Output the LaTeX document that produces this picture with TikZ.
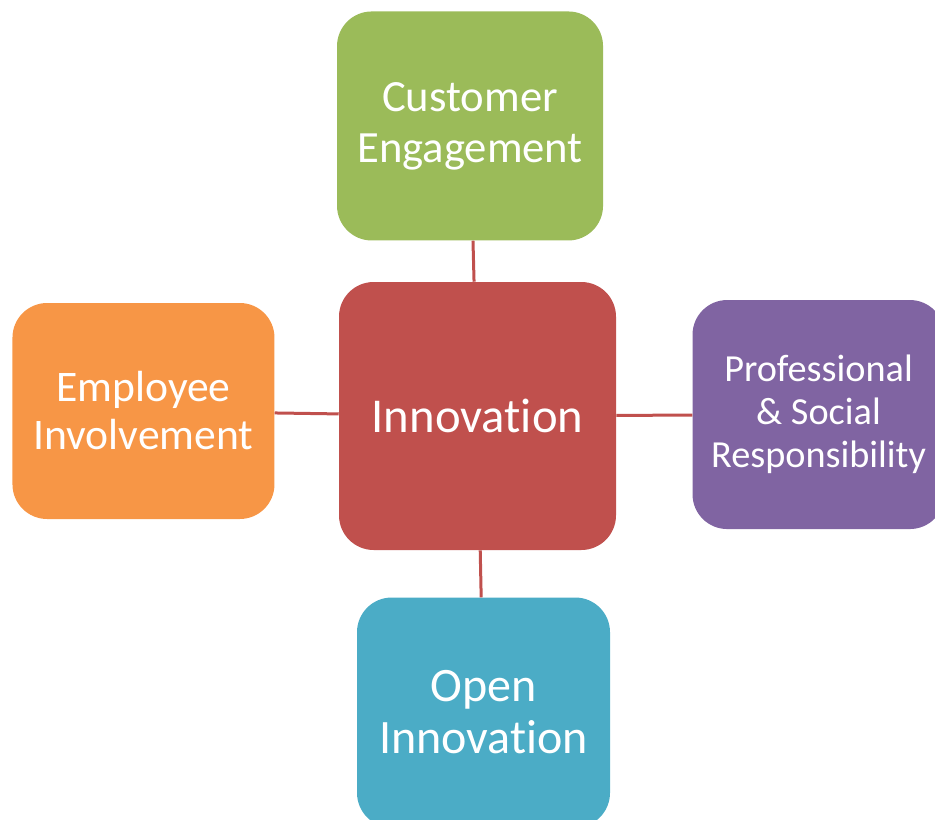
\documentclass[tikz,border=0pt]{standalone}
\usepackage{fontspec}
\setmainfont{Carlito}[Ligatures=NoCommon]
\usetikzlibrary{positioning}

\definecolor{innored}{HTML}{C0504D}
\definecolor{custgreen}{HTML}{9BBB59}
\definecolor{emplorange}{HTML}{F79646}
\definecolor{profpurple}{HTML}{8064A2}
\definecolor{openblue}{HTML}{4BACC6}

\begin{document}
\begin{tikzpicture}[x=0.75pt, y=-0.75pt,
    block/.style={rectangle, rounded corners=26pt, text=white, align=center,
      inner sep=0pt, font=\fontsize{36}{38.25}\selectfont},
    link/.style={draw=innored, line width=2.25pt}]
    \useasboundingbox (0,0) rectangle (935,820);
    \clip (0,0) rectangle (935,820);

    % Nodes
    \node[block, fill=innored, minimum width=207.75pt, minimum height=201pt,
      font=\fontsize{36.5}{38.25}\selectfont] (inno) at (477.5,416) {Innovation};
    \node[block, fill=custgreen, minimum width=199.5pt, minimum height=171.75pt,
      font=\fontsize{33.5}{38.25}\selectfont,
      above=30.75pt of inno, xshift=-5.6pt] (cust) {Customer\\Engagement};
    \node[block, fill=emplorange, minimum width=196.5pt, minimum height=162pt,
      font=\fontsize{32.7}{36}\selectfont,
      left=48pt of inno, yshift=3.75pt] (empl) {Employee\\Involvement};
    \node[block, fill=profpurple, minimum width=189pt, minimum height=171.75pt,
      font=\fontsize{28.7}{32.25}\selectfont,
      right=57pt of inno, yshift=1.1pt] (prof) {Professional\\\& Social\\Responsibility};
    \node[block, fill=openblue, minimum width=189.75pt, minimum height=172.5pt,
      font=\fontsize{36}{39}\selectfont,
      below=35.25pt of inno, xshift=4.5pt] (open) {Open\\Innovation};

    % Edges
    \draw[link] (inno) -- (cust);
    \draw[link] (inno) -- (empl);
    \draw[link] (inno) -- (prof);
    \draw[link] (inno) -- (open);
\end{tikzpicture}
\end{document}
